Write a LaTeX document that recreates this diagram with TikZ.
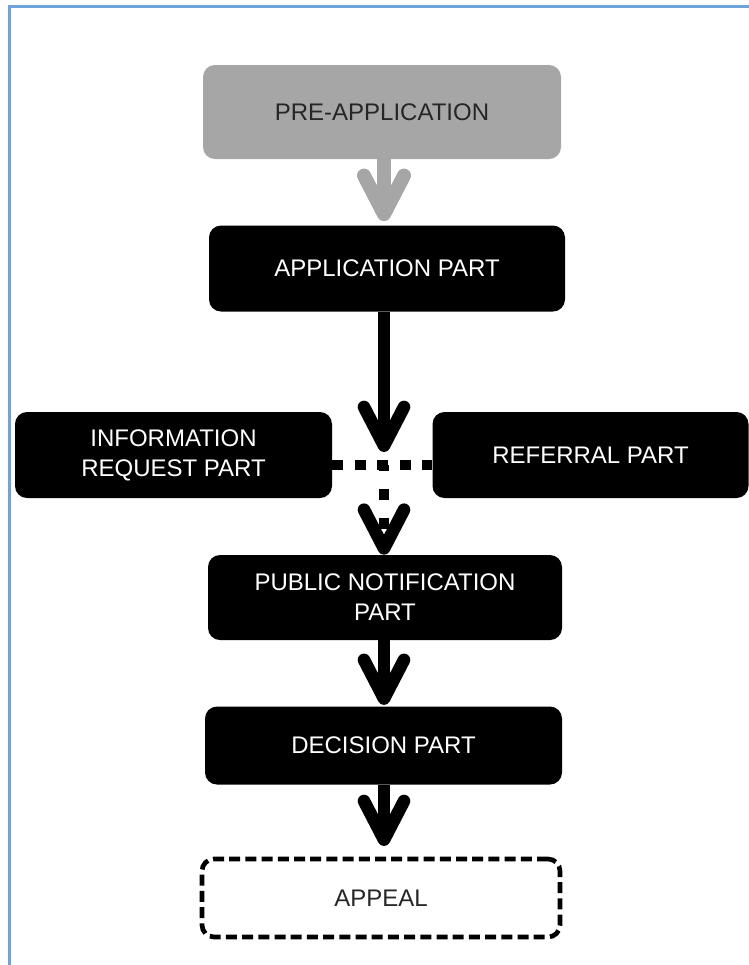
\documentclass[tikz,border=0pt]{standalone}
\usepackage{fontspec}
\setmainfont{Liberation Sans}
\usetikzlibrary{arrows.meta}
\definecolor{frameblue}{HTML}{6FA3DB}
\definecolor{pregray}{HTML}{A6A6A6}
\definecolor{pretext}{HTML}{262626}
\begin{document}
\begin{tikzpicture}[x=0.75pt,y=-0.75pt,
  stage/.style={rectangle, rounded corners=9pt, fill=black, text=white,
    inner sep=0pt, align=center, font=\fontsize{18}{22.5}\selectfont},
  flow/.style={line width=9.5pt, line cap=butt,
    -{Straight Barb[round,length=29pt,width=30pt]}},
  branch/.style={line width=7.2pt, line cap=butt},
]
% page and outer frame
\path[use as bounding box] (0,0) rectangle (749,965);
\draw[frameblue, line width=1.9pt] (9.5,970) -- (9.5,6.5) -- (755,6.5);

% stages
\node[stage, fill=pregray, text=pretext, minimum width=268.5pt, minimum height=70.5pt]
  (pre) at (382,112) {PRE-APPLICATION};
\node[stage, minimum width=267pt, minimum height=64.5pt]
  (app) at (387,268.5) {APPLICATION PART};
\node[stage, minimum width=237.75pt, minimum height=64.5pt]
  (info) at (173.5,455) {INFORMATION\\REQUEST PART};
\node[stage, minimum width=237pt, minimum height=64.5pt]
  (ref) at (590.5,455) {REFERRAL PART};
\node[stage, minimum width=265.5pt, minimum height=63.75pt]
  (pub) at (385,597.5) {PUBLIC NOTIFICATION\\PART};
\node[stage, minimum width=267.75pt, minimum height=58.5pt]
  (dec) at (383.5,745.5) {DECISION PART};
\node[stage, fill=white, text=pretext, draw=black, line width=3.5pt,
  dash pattern=on 8.25pt off 3.9pt, minimum width=268.5pt, minimum height=58.5pt]
  (appeal) at (381,898) {APPEAL};

% reference points on the main line
\coordinate (spine) at (384,0);
\coordinate (meet) at (384,452);
\coordinate (cross) at (384,465);

% connectors
\draw[flow, pregray, line width=10.5pt, shorten >=3pt]
  (pre.south -| spine) -- (app.north -| spine);
\draw[flow] (app.south -| spine) -- (meet);
\draw[branch, dash pattern=on 8.25pt off 8.6pt]
  (info.east |- cross) -- (ref.west |- cross);
\draw[branch, dash pattern=on 8.25pt off 13.5pt, dash phase=3.4pt,
  -{Straight Barb[round,length=29pt,width=30pt,line width=9.5pt]}]
  (cross) -- (pub.north -| spine);
\draw[flow, shorten >=1pt] (pub.south -| spine) -- (dec.north -| spine);
\draw[flow, shorten >=8pt] (dec.south -| spine) -- (appeal.north -| spine);
\end{tikzpicture}
\end{document}
